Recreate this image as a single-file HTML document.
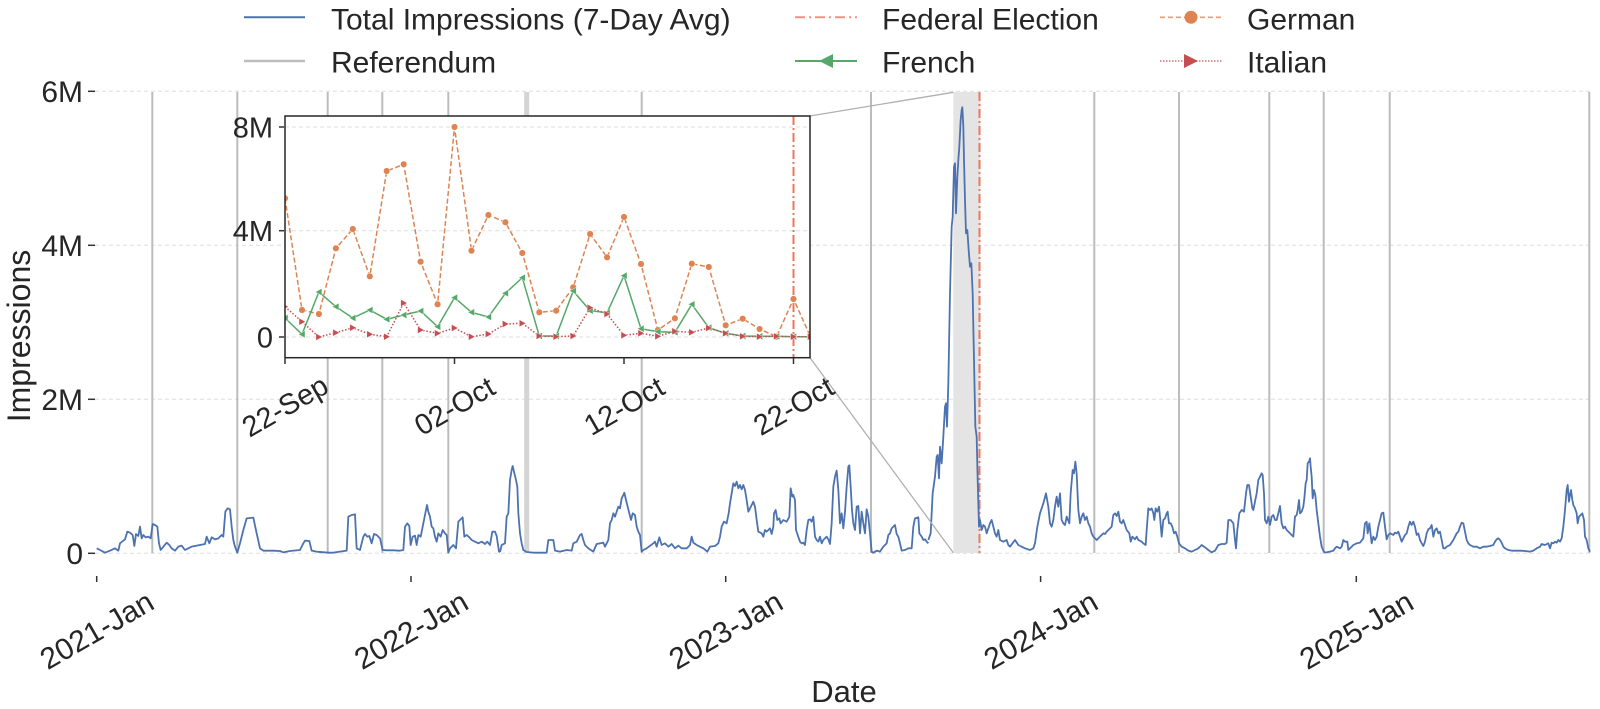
<!DOCTYPE html>
<html><head><meta charset="utf-8"><style>
html,body{margin:0;padding:0;background:#fff;}
svg{display:block;font-family:"Liberation Sans",Arial,sans-serif;fill:#262626;}
</style></head><body>
<svg width="1600" height="709" viewBox="0 0 1600 709" xmlns="http://www.w3.org/2000/svg">
<defs>
<clipPath id="insetclip"><rect x="285" y="116" width="525" height="241.7"/></clipPath>
<marker id="mc" viewBox="-5 -5 10 10" markerWidth="10" markerHeight="10" refX="0" refY="0" markerUnits="userSpaceOnUse"><circle r="3.3" fill="#dd8452" stroke="#fff" stroke-width="0.5"/></marker>
<marker id="ml" viewBox="-5 -5 10 10" markerWidth="10" markerHeight="10" refX="0" refY="0" markerUnits="userSpaceOnUse"><polygon points="-3.6,0 3,-3.6 3,3.6" fill="#55a868" stroke="#fff" stroke-width="0.4"/></marker>
<marker id="mr" viewBox="-5 -5 10 10" markerWidth="10" markerHeight="10" refX="0" refY="0" markerUnits="userSpaceOnUse"><polygon points="3.6,0 -3,-3.6 -3,3.6" fill="#c44e52" stroke="#fff" stroke-width="0.4"/></marker>
</defs>

<!-- Legend -->
<g font-size="30">
<line x1="244" y1="17.3" x2="305" y2="17.3" stroke="#4c72b0" stroke-width="2"/>
<text x="331" y="29.3">Total Impressions (7-Day Avg)</text>
<line x1="244" y1="61" x2="305" y2="61" stroke="#bdbdbd" stroke-width="2.5"/>
<text x="331" y="72.3">Referendum</text>
<line x1="795" y1="17.3" x2="857" y2="17.3" stroke="#f08070" stroke-width="2" stroke-dasharray="10,4,2,4" opacity="0.85"/>
<text x="882" y="29.3">Federal Election</text>
<line x1="795" y1="61" x2="857" y2="61" stroke="#55a868" stroke-width="2"/>
<polygon points="819,61 833,54 833,68" fill="#55a868"/>
<text x="882" y="72.3">French</text>
<line x1="1160" y1="17.3" x2="1222" y2="17.3" stroke="#dd8452" stroke-width="1.6" stroke-dasharray="5,3" opacity="0.8"/>
<circle cx="1191" cy="17.3" r="6.5" fill="#dd8452"/>
<text x="1247" y="29.3">German</text>
<line x1="1160" y1="61" x2="1222" y2="61" stroke="#c44e52" stroke-width="1.6" stroke-dasharray="1.5,1.5" opacity="0.8"/>
<polygon points="1198,61 1184,54 1184,68" fill="#c44e52"/>
<text x="1247" y="72.3">Italian</text>
</g>

<!-- Grid -->
<g stroke="#dedede" stroke-width="1" stroke-dasharray="4,3">
<line x1="95" y1="91.3" x2="1591" y2="91.3"/>
<line x1="95" y1="245.3" x2="1591" y2="245.3"/>
<line x1="95" y1="399.3" x2="1591" y2="399.3"/>
<line x1="95" y1="553.3" x2="1591" y2="553.3"/>
</g>

<!-- Referendum lines -->
<g stroke="#bcbcbc" stroke-width="2">
<line x1="152.3" y1="92" x2="152.3" y2="553"/>
<line x1="237.3" y1="92" x2="237.3" y2="553"/>
<line x1="327.7" y1="92" x2="327.7" y2="553"/>
<line x1="382.3" y1="92" x2="382.3" y2="553"/>
<line x1="448.3" y1="92" x2="448.3" y2="553"/>
<line x1="526.7" y1="92" x2="526.7" y2="553" stroke-width="5" stroke="#d4d4d4"/>
<line x1="641.7" y1="92" x2="641.7" y2="553"/>
<line x1="871" y1="92" x2="871" y2="553"/>
<line x1="1094.3" y1="92" x2="1094.3" y2="553"/>
<line x1="1179" y1="92" x2="1179" y2="553"/>
<line x1="1269.3" y1="92" x2="1269.3" y2="553"/>
<line x1="1323.7" y1="92" x2="1323.7" y2="553"/>
<line x1="1389.7" y1="92" x2="1389.7" y2="553"/>
<line x1="1589.3" y1="92" x2="1589.3" y2="553"/>
</g>

<!-- Zoom band -->
<rect x="953.3" y="92" width="27" height="461" fill="#e4e4e4"/>
<!-- Federal election line -->
<line x1="979.5" y1="92" x2="979.5" y2="553" stroke="#ef7459" stroke-width="2" stroke-dasharray="9,3,2,3"/>

<!-- Main series -->
<g fill="none" stroke="#4c72b0" stroke-width="1.8" stroke-linejoin="round">
<polyline vector-effect="non-scaling-stroke" transform="translate(0,380) scale(0.333333)" points="290,505 300,510 315,518 330,512 345,505 355,512 360,490 375,478 382,455 390,458 398,465 403,498 408,462 415,468 420,440 425,475 430,465 437,472 445,470 452,475 458,432 465,435 472,440 477,490 482,510 490,500 500,488 508,495 515,505 525,512 535,500 545,497 555,510 565,505 575,500 585,498 600,495 615,492 620,470 628,490 635,472 645,478 655,475 665,465 670,470 676,395 683,385 690,388 695,440 700,480 705,500 712,518 720,490 730,450 740,415 760,413 770,460 780,505 790,512 800,512 820,512 840,513 850,517 870,513 900,510 910,490 915,482 928,483 935,512 950,515 985,518 1000,518 1020,515 1040,512 1045,410 1055,405 1065,403 1070,505 1080,510 1090,470 1095,462 1102,470 1108,468 1115,490 1122,462 1130,465 1140,475 1148,510 1160,511 1180,511 1200,512 1210,510 1215,440 1222,430 1228,438 1232,495 1238,470 1245,467 1250,495 1255,465 1262,470 1270,430 1275,405 1281,375 1285,395 1290,410 1295,440 1300,445 1305,470 1310,485 1315,460 1322,470 1328,450 1335,460 1340,465 1345,518 1350,505 1360,495 1368,505 1375,425 1380,420 1388,412 1393,470 1400,465 1408,472 1415,480 1425,485 1435,490 1445,485 1455,492 1462,485 1470,495 1477,455 1485,455 1490,468 1497,515 1500,516"/>
<polyline vector-effect="non-scaling-stroke" transform="translate(500,380) scale(0.333333)" points="0,516 5,495 15,490 20,410 25,400 30,300 35,270 38,258 42,275 48,300 52,320 55,400 60,460 65,490 70,510 80,516 100,518 140,518 145,480 160,480 165,512 180,515 200,510 215,512 220,490 230,485 240,465 245,462 250,480 255,495 265,505 280,515 290,492 300,490 310,488 315,500 325,480 330,430 335,420 340,400 345,410 350,395 355,380 360,385 365,355 370,345 373,338 378,360 383,380 388,400 393,420 398,400 405,405 410,440 415,455 420,465 425,515 430,510 440,505 460,490 465,485 470,500 478,472 485,495 495,490 505,500 515,492 525,505 535,497 545,505 560,505 570,495 575,470 580,488 590,495 600,500 610,505 622,515 630,500 645,498 655,490 660,470 665,440 672,425 680,430 686,400 690,370 695,340 700,310 705,318 710,305 715,325 720,315 725,328 730,315 735,330 740,360 745,395 750,385 755,375 760,365 765,380 770,420 775,455 785,460 790,470 795,450 800,455 810,445 815,462 820,440 822,400 827,390 832,420 838,415 842,430 850,420 860,425 868,410 872,325 877,350 880,345 885,360 888,450 893,465 900,485 905,490 910,488 915,495 920,450 925,420 930,418 935,425 940,410 945,470 950,480 955,485 960,470 965,490 970,480 980,470 985,478 990,492 995,430 1000,320 1005,290 1010,272 1015,330 1020,430 1025,400 1030,445 1035,395 1040,320 1045,260 1048,256 1052,320 1056,390 1060,430 1065,450 1070,380 1075,378 1080,460 1085,395 1090,430 1095,460 1100,388 1105,410 1110,460 1115,515 1120,518 1130,512 1140,515 1150,500 1160,490 1165,465 1170,460 1175,445 1180,440 1185,435 1190,462 1195,470 1200,490 1205,512 1215,510 1225,505 1235,505 1240,440 1245,415 1255,412 1258,460 1265,470 1270,480 1275,478 1280,485 1285,490"/>
<polyline vector-effect="non-scaling-stroke" transform="translate(800,60) scale(0.333333)" points="385,1440 392,1420 398,1300 405,1250 410,1190 413,1185 417,1255 420,1160 425,1210 430,1130 435,1040 438,1030 441,1100 445,970 450,700 455,500 458,470 462,320 465,310 468,460 472,350 475,300 478,260 482,180 485,150 487,142 490,200 492,300 495,420 498,520 502,510 506,570 510,620 514,610 518,700 522,900 526,1100 530,1130 533,1260 537,1400 540,1380 545,1410 550,1395 555,1400 560,1420 570,1390 575,1380 580,1400 585,1420 590,1430 595,1410 600,1440 610,1445 620,1440 625,1455 630,1460 645,1440 655,1455 665,1460 675,1465 690,1470 700,1465 705,1450 712,1400 720,1360 730,1330 738,1300 745,1340 750,1390 755,1400 760,1380 765,1340 770,1310 775,1340 780,1300 785,1380 790,1390 795,1395 800,1370 808,1390 812,1300 818,1230 822,1240 826,1205 830,1240 835,1350 840,1390 845,1370 850,1360 855,1380 860,1370 865,1390 870,1400 875,1420 880,1430 890,1440 900,1430"/>
<polyline vector-effect="non-scaling-stroke" transform="translate(1100,380) scale(0.333333)" points="0,470 5,465 10,460 15,462 20,455 25,450 30,445 35,440 40,405 45,400 50,408 55,395 60,425 65,430 70,420 75,435 80,450 88,460 92,485 97,470 105,478 110,470 115,480 120,482 125,485 130,490 137,495 140,450 145,385 150,390 155,385 160,400 163,420 167,385 172,395 177,380 180,410 185,470 190,420 195,415 200,400 203,395 207,430 212,430 217,440 222,460 227,455 232,470 237,490 245,500 255,505 265,512 275,515 285,510 295,505 305,495 315,502 325,510 335,517 345,512 355,495 365,492 375,492 380,488 385,420 392,420 400,430 405,480 408,505 412,450 418,400 425,390 432,395 438,340 442,315 447,315 452,350 457,385 460,390 465,365 470,340 475,300 480,290 485,280 488,285 492,340 495,420 500,430 505,410 510,435 515,410 520,405 525,420 530,420 535,400 540,378 545,430 550,445 555,440 560,450 565,455 570,460 575,465 580,470 585,410 590,405 593,390 597,360 600,400 605,395 610,380 613,355 617,310 620,300 623,250 627,245 630,235 632,260 635,290 638,355 642,330 646,345 650,390 655,430 660,470 665,500 670,512 675,518 690,515 700,512 705,505 710,500 720,505 725,500 730,480 735,485 742,485 745,510 750,505 760,495 770,490 780,488 790,475 795,430 800,425 803,460 808,430 815,490 820,470 825,480 830,470 835,440 840,420 845,400 850,398 855,440 860,478 865,465 870,460 875,462 880,465 885,458 890,460 895,455 900,470 905,485 910,475 915,465 920,460 925,440 930,425 935,435 940,425 945,440 950,465 955,460 960,480 965,490 970,498 975,485 980,460 985,448 990,445 995,435 1000,470 1005,450 1010,445 1015,460 1020,455 1025,480 1030,505 1035,505 1040,500 1050,495 1060,480 1065,470 1070,460 1075,455 1080,440 1085,428 1090,430 1095,455 1100,480 1105,490 1110,495 1120,500 1130,500 1140,505 1150,500 1160,500 1170,498 1180,495 1185,485 1190,478 1195,475 1200,480 1205,488 1210,500 1215,505 1225,510 1235,512 1245,512 1260,512 1275,513 1290,515 1300,512 1310,505 1320,500 1325,492 1335,495 1345,490 1350,505 1355,488 1360,490 1365,485 1370,488 1375,480 1380,485 1385,475 1390,440 1395,390 1400,330 1403,315 1407,365 1410,345 1413,330 1417,360 1420,375 1425,385 1430,400 1433,430 1437,410 1442,405 1447,400 1452,420 1455,470 1460,480 1465,505 1470,515"/>
</g>

<!-- Connectors -->
<g stroke="#b0b0b0" stroke-width="1.3">
<line x1="810" y1="116" x2="953.3" y2="92.3"/>
<line x1="810" y1="357.7" x2="953.3" y2="552.7"/>
</g>

<!-- Main axes ticks -->
<g stroke="#333" stroke-width="1.5">
<line x1="96.7" y1="576" x2="96.7" y2="582"/>
<line x1="411" y1="576" x2="411" y2="582"/>
<line x1="725.7" y1="576" x2="725.7" y2="582"/>
<line x1="1040.6" y1="576" x2="1040.6" y2="582"/>
<line x1="1356.3" y1="576" x2="1356.3" y2="582"/>
<line x1="88" y1="91.3" x2="95" y2="91.3"/>
<line x1="88" y1="245.3" x2="95" y2="245.3"/>
<line x1="88" y1="399.3" x2="95" y2="399.3"/>
<line x1="88" y1="553.3" x2="95" y2="553.3"/>
</g>
<g font-size="30">
<text x="83" y="102" text-anchor="end">6M</text>
<text x="83" y="256" text-anchor="end">4M</text>
<text x="83" y="410" text-anchor="end">2M</text>
<text x="83" y="564" text-anchor="end">0</text>
<text transform="translate(96.7,630) rotate(-30)" y="10.5" text-anchor="middle">2021-Jan</text>
<text transform="translate(411,630) rotate(-30)" y="10.5" text-anchor="middle">2022-Jan</text>
<text transform="translate(725.7,630) rotate(-30)" y="10.5" text-anchor="middle">2023-Jan</text>
<text transform="translate(1040.6,630) rotate(-30)" y="10.5" text-anchor="middle">2024-Jan</text>
<text transform="translate(1356.3,630) rotate(-30)" y="10.5" text-anchor="middle">2025-Jan</text>
</g>
<text x="844" y="702" font-size="31" text-anchor="middle">Date</text>
<text transform="translate(30,336) rotate(-90)" font-size="32" text-anchor="middle">Impressions</text>

<!-- Inset -->
<rect x="285" y="116" width="525" height="241.7" fill="#fff"/>
<g stroke="#dedede" stroke-width="1" stroke-dasharray="4,3">
<line x1="285" y1="127" x2="810" y2="127"/>
<line x1="285" y1="230.7" x2="810" y2="230.7"/>
<line x1="285" y1="337" x2="810" y2="337"/>
</g>
<line x1="793.5" y1="116" x2="793.5" y2="357.7" stroke="#ef7459" stroke-width="2" stroke-dasharray="9,3,2,3"/>
<g clip-path="url(#insetclip)" fill="none">
<polyline stroke="#dd8452" stroke-width="1.5" stroke-dasharray="5,2.5" marker-start="url(#mc)" marker-mid="url(#mc)" marker-end="url(#mc)" points="285,198.3 302,310 318.9,314 335.9,248.3 352.8,229 369.8,276.3 386.7,171 403.7,164.3 420.6,261.7 437.6,304.3 454.5,127 471.5,250.7 488.4,215 505.4,222.3 522.3,253 539.3,312.3 556.2,310.7 573.2,287.3 590.1,234 607.1,257.3 624,217 641,264 657.9,330 674.9,318.3 691.8,263.7 708.8,267 725.7,325.3 742.7,318.7 759.6,329 776.6,336.7 793.5,299 810.5,336.7"/>
<polyline stroke="#55a868" stroke-width="1.5" marker-start="url(#ml)" marker-mid="url(#ml)" marker-end="url(#ml)" points="285,318 302,334.3 318.9,292 335.9,306.7 352.8,318 369.8,310 386.7,319.3 403.7,315 420.6,311 437.6,326.7 454.5,297.7 471.5,312.3 488.4,317 505.4,293.3 522.3,277.7 539.3,336 556.2,336 573.2,291 590.1,310.7 607.1,312.7 624,275.7 641,328.7 657.9,331.7 674.9,332.3 691.8,304.3 708.8,327.7 725.7,333.3 742.7,336 759.6,336.3 776.6,336.3 793.5,336.7 810.5,336.7"/>
<polyline stroke="#c44e52" stroke-width="1.5" stroke-dasharray="1.5,1.8" marker-start="url(#mr)" marker-mid="url(#mr)" marker-end="url(#mr)" points="285,306.7 302,321.7 318.9,337 335.9,332.7 352.8,327.7 369.8,334.3 386.7,336.7 403.7,303 420.6,330 437.6,333.3 454.5,328 471.5,336.7 488.4,334 505.4,324 522.3,323.3 539.3,336 556.2,336.7 573.2,336 590.1,307.7 607.1,314 624,335.3 641,333.3 657.9,336.3 674.9,331.3 691.8,332.3 708.8,328 725.7,333.3 742.7,336.3 759.6,336.7 776.6,336.3 793.5,336.7 810.5,336.7"/>
</g>
<rect x="285" y="116" width="525" height="241.7" fill="none" stroke="#262626" stroke-width="1.5"/>
<g stroke="#333" stroke-width="1.5">
<line x1="279" y1="127" x2="284" y2="127"/>
<line x1="279" y1="230.7" x2="284" y2="230.7"/>
<line x1="279" y1="337" x2="284" y2="337"/>
<line x1="285" y1="358" x2="285" y2="364"/>
<line x1="454.5" y1="358" x2="454.5" y2="364"/>
<line x1="624" y1="358" x2="624" y2="364"/>
<line x1="793.5" y1="358" x2="793.5" y2="364"/>
</g>
<g font-size="29">
<text x="273" y="137.5" text-anchor="end">8M</text>
<text x="273" y="241.2" text-anchor="end">4M</text>
<text x="273" y="347.5" text-anchor="end">0</text>
<text transform="translate(285,406) rotate(-30)" y="10" text-anchor="middle">22-Sep</text>
<text transform="translate(454.5,406) rotate(-30)" y="10" text-anchor="middle">02-Oct</text>
<text transform="translate(624,406) rotate(-30)" y="10" text-anchor="middle">12-Oct</text>
<text transform="translate(793.5,406) rotate(-30)" y="10" text-anchor="middle">22-Oct</text>
</g>
</svg>
</body></html>
